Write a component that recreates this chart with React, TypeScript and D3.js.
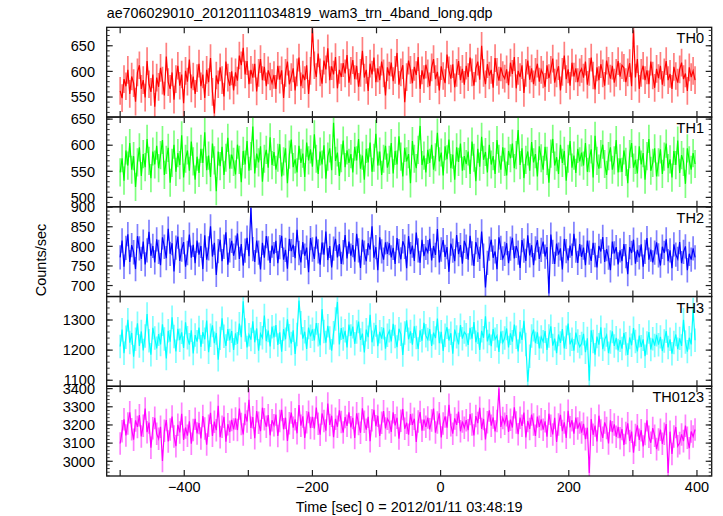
import React from "react";
import * as d3 from "d3";

const TITLE = "ae706029010_20120111034819_wam3_trn_4band_long.qdp";
const X_LABEL = "Time [sec] 0 = 2012/01/11 03:48:19";
const Y_LABEL = "Counts/sec";
const TIME_START = -500;
const BIN = 3;

const th0 = [
562,548,585,571,603,556,590,577,541,598,612,566,583,549,620,575,560,594,531,588,
570,607,582,553,629,579,566,598,545,585,611,572,594,538,601,580,623,567,590,556,
587,615,571,594,548,603,579,626,560,518,592,575,608,583,551,619,588,572,600,563,
598,582,631,612,646,594,620,575,603,588,615,561,597,624,583,609,571,602,590,577,
593,566,611,584,602,548,597,619,575,589,606,563,598,627,571,594,583,612,556,601,
684,612,589,635,598,576,621,604,645,583,610,594,628,567,603,589,616,596,632,578,
601,622,585,611,570,597,640,588,603,562,615,594,627,579,606,583,619,596,553,608,
592,617,581,603,636,574,598,612,540,589,621,603,577,609,593,628,566,602,585,613,
596,571,608,624,585,599,563,610,591,577,633,602,586,614,569,597,620,583,605,574,
611,589,627,598,572,606,619,584,650,597,575,614,592,603,568,626,599,582,608,593,
586,604,573,617,595,628,567,601,589,612,558,597,621,584,606,575,599,615,580,603,
594,570,612,587,603,625,578,596,610,563,599,631,585,604,572,617,590,606,579,598,
605,588,619,574,599,627,592,565,608,583,614,596,572,621,601,586,611,578,597,620,
590,612,607,579,598,616,571,680,588,624,566,597,611,583,602,575,619,592,568,605,
587,611,574,598,620,583,595,566,609,591,578,604,617,585,596,562,608,589,601,583];

const th1 = [
548,575,532,590,561,604,553,579,520,567,596,541,583,558,612,570,537,588,563,599,
556,581,610,543,572,595,528,566,601,549,585,562,619,538,574,590,551,607,569,534,
578,547,593,566,625,552,580,539,603,571,512,588,560,597,543,576,614,555,582,568,
544,601,572,529,589,563,608,551,579,636,546,584,567,598,530,574,591,557,615,562,
587,553,576,602,540,569,594,527,582,611,558,573,548,599,566,584,539,605,571,592,
559,621,574,545,588,563,600,536,578,594,552,643,570,586,541,575,609,558,590,566,
583,548,597,571,612,555,580,534,593,567,605,549,576,622,561,588,543,574,599,557,
572,604,546,589,563,617,578,540,595,569,583,527,608,574,556,591,637,562,580,548,
591,566,601,553,577,624,569,586,542,598,573,611,556,582,534,596,568,603,551,579,
564,588,545,607,576,531,593,559,616,572,587,548,601,563,579,545,610,574,553,596,
568,542,589,575,603,556,581,629,562,594,537,572,588,551,606,567,583,540,598,575,
553,597,570,528,584,612,561,577,545,601,566,589,532,574,608,557,580,547,593,569,
586,561,604,549,575,592,538,618,570,555,583,601,564,543,579,596,553,571,610,548,
575,549,590,568,527,583,604,557,572,546,598,563,585,534,579,612,551,566,594,540,
567,592,545,578,603,556,573,538,589,562,609,547,581,568,526,594,571,553,585,564];

const th2 = [
772,815,748,796,831,760,803,785,742,826,795,768,812,754,790,837,776,801,759,818,
786,752,823,799,770,845,781,808,736,797,825,763,792,811,748,783,830,771,804,757,
815,779,801,742,828,766,795,851,774,809,727,788,817,762,799,836,753,790,814,776,
797,833,768,806,751,789,822,775,898,793,760,815,784,741,809,771,826,795,758,802,
780,814,757,798,827,766,791,743,819,788,804,770,842,783,759,811,776,797,734,821,
792,768,825,787,753,810,779,838,765,801,746,794,819,772,806,755,785,829,769,812,
776,803,761,832,790,745,817,784,762,808,792,851,771,798,739,823,787,766,810,781,
808,772,796,755,821,788,767,813,799,744,826,780,802,763,835,790,758,817,775,796,
785,819,764,801,778,844,759,792,816,773,798,735,807,789,762,829,780,803,756,814,
799,766,827,782,750,811,791,768,838,776,695,758,794,817,771,787,742,823,796,769,
781,808,757,794,822,769,801,784,745,816,789,763,828,777,803,752,795,816,768,791,
812,774,798,680,830,786,755,807,779,795,741,819,788,764,802,776,832,789,758,806,
773,797,752,815,784,763,809,778,746,801,787,824,760,793,771,739,812,782,798,754,
790,762,806,775,729,798,783,817,756,791,772,805,748,786,821,766,792,759,784,810,
777,751,799,783,818,762,790,744,805,779,768,811,757,786,800,739,781,766,795,772];

const th3 = [
1212,1268,1190,1243,1301,1225,1257,1178,1236,1289,1214,1262,1199,1247,1320,1231,1185,1274,1240,1206,
1253,1219,1286,1237,1172,1264,1228,1309,1245,1196,1271,1233,1259,1207,1292,1241,1218,1266,1189,1250,
1228,1275,1211,1260,1236,1298,1193,1249,1282,1223,1257,1168,1239,1306,1246,1214,1270,1232,1263,1201,
1256,1221,1288,1243,1362,1267,1209,1251,1235,1296,1226,1272,1198,1254,1241,1315,1230,1265,1212,1278,
1242,1283,1217,1259,1195,1270,1236,1302,1248,1222,1266,1187,1252,1365,1291,1238,1261,1204,1275,1246,
1269,1232,1290,1251,1216,1336,1262,1225,1281,1240,1198,1258,1303,1360,1219,1273,1237,1264,1209,1285,
1247,1278,1221,1260,1295,1234,1255,1192,1268,1243,1317,1226,1252,1283,1213,1261,1238,1274,1205,1249,
1264,1229,1287,1245,1210,1271,1253,1184,1257,1299,1236,1262,1218,1279,1242,1204,1266,1231,1291,1248,
1235,1270,1214,1258,1240,1305,1223,1261,1197,1249,1276,1232,1256,1188,1268,1244,1219,1283,1238,1260,
1251,1217,1274,1238,1293,1226,1259,1201,1264,1241,1312,1229,1255,1213,1270,1236,1248,1194,1262,1225,
1240,1272,1209,1256,1228,1285,1243,1196,1261,1234,1297,1219,1095,1180,1247,1268,1223,1259,1206,1244,
1228,1263,1201,1247,1279,1215,1238,1190,1252,1224,1270,1206,1243,1288,1219,1236,1198,1258,1230,1211,
1222,1254,1193,1239,1098,1266,1229,1185,1245,1218,1276,1203,1235,1250,1190,1227,1262,1214,1241,1199,
1233,1205,1257,1221,1184,1242,1216,1273,1229,1196,1248,1211,1236,1180,1224,1260,1202,1238,1215,1251,
1218,1244,1197,1230,1263,1209,1236,1188,1225,1252,1203,1239,1214,1301,1227,1195,1241,1219,1335,1233];

const th0123 = [
3098,3165,3231,3142,3208,3270,3176,3119,3225,3189,3254,3137,3196,3290,3160,3213,3075,3182,3239,3151,
3124,3190,3002,3168,3227,3109,3175,3246,3137,3083,3201,3159,3262,3118,3186,3141,3220,3097,3172,3234,
3153,3211,3126,3249,3180,3092,3196,3267,3140,3218,3171,3305,3133,3190,3245,3108,3204,3162,3228,3175,
3236,3172,3290,3205,3148,3261,3219,3338,3184,3243,3127,3276,3212,3166,3295,3231,3190,3254,3143,3226,
3198,3257,3139,3222,3283,3176,3240,3112,3209,3268,3185,3231,3154,3310,3196,3247,3128,3215,3272,3183,
3245,3181,3296,3207,3146,3263,3222,3169,3318,3200,3251,3133,3234,3190,3281,3216,3158,3244,3195,3270,
3187,3239,3128,3264,3205,3157,3292,3218,3174,3245,3110,3226,3283,3193,3251,3140,3212,3276,3181,3234,
3215,3162,3270,3198,3240,3125,3223,3288,3179,3212,3146,3260,3201,3234,3107,3219,3271,3168,3230,3190,
3241,3176,3225,3290,3158,3213,3264,3131,3208,3247,3185,3311,3199,3152,3236,3200,3273,3165,3219,3184,
3226,3171,3260,3203,3142,3249,3210,3295,3178,3233,3120,3215,3280,3196,3241,3164,3222,3401,3189,3238,
3207,3254,3162,3229,3186,3297,3214,3149,3240,3195,3268,3131,3222,3178,3257,3203,3140,3246,3190,3231,
3174,3220,3136,3262,3195,3148,3239,3107,3203,3256,3166,3214,3129,3278,3187,3226,3152,3241,3180,3213,
3158,3206,3122,3185,2935,3233,3146,3197,3109,3251,3170,3129,3214,3183,3098,3226,3160,3203,3135,3189,
3127,3178,3090,3156,3209,3112,3163,3047,3145,3198,3118,3171,3082,3150,3226,3135,3102,3183,3141,3067,
3120,3174,3096,3152,3205,2935,3163,3040,3137,3189,3083,3100,3148,3111,3196,3129,3072,3164,3136,3175];

const panelNames = ["TH0", "TH1", "TH2", "TH3", "TH0123"];
const panelSeries = [th0, th1, th2, th3, th0123];
const panelColors = ["#ff0000", "#00ff00", "#0000ff", "#00ffff", "#ff00ff"];
const panelErrors = [27, 27, 31, 39, 62];
const panelDomains: [number, number][] = [[511, 686], [482, 654], [672, 901], [1080, 1378], [2919, 3413]];
const panelTicks = [
  [550, 600, 650],
  [500, 550, 600, 650],
  [700, 750, 800, 850, 900],
  [1100, 1200, 1300],
  [3000, 3100, 3200, 3300, 3400],
];
const panelMinorSteps = [10, 10, 10, 20, 20];
const xTicks = [-500, -400, -300, -200, -100, 0, 100, 200, 300, 400];
const xTickLabels = [-400, -200, 0, 200, 400];

const W = 723;
const H = 516;
const LEFT = 106.7;
const RIGHT = 711.7;
const TOP = 27.3;
const BOTTOM = 476;
const FONT = "'Liberation Sans', Arial, Helvetica, sans-serif";

export default function App() {
  const x = d3.scaleLinear().domain([-521, 423]).range([LEFT, RIGHT]);
  const ph = (BOTTOM - TOP) / panelNames.length;
  const fmt = (v: number) => (v < 0 ? "\u2212" + Math.abs(v) : String(v));

  return (
    <svg
      width={W}
      height={H}
      style={{ position: "absolute", left: 0, top: 0, background: "#fff" }}
      fontFamily={FONT}
    >
      <defs>
        {panelNames.map((_, i) => (
          <clipPath id={"clip" + i} key={i}>
            <rect x={LEFT} y={TOP + i * ph} width={RIGHT - LEFT} height={ph} />
          </clipPath>
        ))}
      </defs>
      <text x={LEFT} y={18} fontSize={14.3} fill="#000">{TITLE}</text>
      {panelNames.map((name, i) => {
        const top = TOP + i * ph;
        const bot = top + ph;
        const y = d3.scaleLinear().domain(panelDomains[i]).range([bot, top]);
        const vals = panelSeries[i];
        const err = panelErrors[i];
        const tx = (k: number) => x(TIME_START + k * BIN);
        const line = d3
          .line<number>()
          .x((_, k) => tx(k))
          .y((v) => y(v));
        const [d0, d1] = panelDomains[i];
        const ms = panelMinorSteps[i];
        const minors = d3.range(Math.ceil(d0 / ms) * ms, d1 + 0.001, ms);
        const errPath = vals
          .map((v, k) => `M${tx(k).toFixed(2)},${y(v - err).toFixed(2)}V${y(v + err).toFixed(2)}`)
          .join("");
        return (
          <g key={name}>
            <g clipPath={`url(#clip${i})`}>
              <path d={errPath} stroke={panelColors[i]} strokeOpacity={0.5} strokeWidth={1.7} fill="none" />
              <path d={line(vals) || ""} stroke={panelColors[i]} strokeWidth={1.2} fill="none" />
            </g>
            <rect x={LEFT} y={top} width={RIGHT - LEFT} height={ph} fill="none" stroke="#111" strokeWidth={1.3} />
            {minors.map((v) => (
              <g key={"m" + v}>
                <line x1={LEFT} x2={LEFT + 3} y1={y(v)} y2={y(v)} stroke="#333" strokeWidth={1} />
                <line x1={RIGHT} x2={RIGHT - 3} y1={y(v)} y2={y(v)} stroke="#333" strokeWidth={1} />
              </g>
            ))}
            {panelTicks[i].map((v) => (
              <g key={"t" + v}>
                <line x1={LEFT} x2={LEFT + 6} y1={y(v)} y2={y(v)} stroke="#222" strokeWidth={1.2} />
                <line x1={RIGHT} x2={RIGHT - 6} y1={y(v)} y2={y(v)} stroke="#222" strokeWidth={1.2} />
                <text x={95} y={y(v)} dy="0.36em" textAnchor="end" fontSize={14.5} fill="#000">
                  {v}
                </text>
              </g>
            ))}
            {xTicks.map((t) => (
              <g key={"x" + t}>
                <line x1={x(t)} x2={x(t)} y1={top} y2={top + 6} stroke="#222" strokeWidth={1.2} />
                <line x1={x(t)} x2={x(t)} y1={bot} y2={bot - 6} stroke="#222" strokeWidth={1.2} />
              </g>
            ))}
            <text x={704} y={top + 16} textAnchor="end" fontSize={14.5} fill="#000">
              {name}
            </text>
          </g>
        );
      })}
      {xTickLabels.map((t) => (
        <text key={"xl" + t} x={x(t)} y={492} textAnchor="middle" fontSize={14.5} fill="#000">
          {fmt(t)}
        </text>
      ))}
      <text x={(LEFT + RIGHT) / 2} y={512} textAnchor="middle" fontSize={14.5} fill="#000">
        {X_LABEL}
      </text>
      <text
        transform={`translate(46,260) rotate(-90)`}
        textAnchor="middle"
        fontSize={14.5}
        fill="#000"
      >
        {Y_LABEL}
      </text>
    </svg>
  );
}
